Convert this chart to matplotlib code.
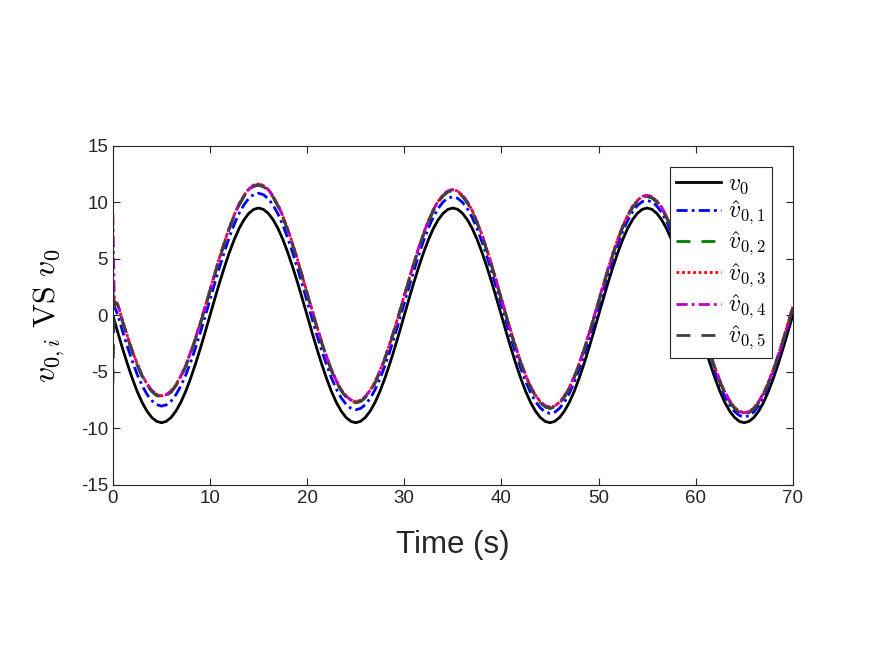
import matplotlib
matplotlib.use('Agg')
import matplotlib.pyplot as plt

plt.rcParams['font.family'] = ['Liberation Sans', 'DejaVu Sans']
plt.rcParams['mathtext.fontset'] = 'cm'
plt.rcParams['axes.unicode_minus'] = False

# time axis (s): 0.5 s samples plus one extra sample right after t=0 for the start-up jump
time = [0, 0.15] + [0.5 * k for k in range(1, 141)]

# true leader velocity v0
v0 = [0.00, -0.45,
      -1.49, -2.94, -4.31, -5.58, -6.72, -7.69, -8.46, -9.03, -9.38, -9.50,
      -9.38, -9.03, -8.46, -7.69, -6.72, -5.58, -4.31, -2.94, -1.49, 0.00,
      1.49, 2.94, 4.31, 5.58, 6.72, 7.69, 8.46, 9.03, 9.38, 9.50,
      9.38, 9.03, 8.46, 7.69, 6.72, 5.58, 4.31, 2.94, 1.49, 0.00,
      -1.49, -2.94, -4.31, -5.58, -6.72, -7.69, -8.46, -9.03, -9.38, -9.50,
      -9.38, -9.03, -8.46, -7.69, -6.72, -5.58, -4.31, -2.94, -1.49, 0.00,
      1.49, 2.94, 4.31, 5.58, 6.72, 7.69, 8.46, 9.03, 9.38, 9.50,
      9.38, 9.03, 8.46, 7.69, 6.72, 5.58, 4.31, 2.94, 1.49, 0.00,
      -1.49, -2.94, -4.31, -5.58, -6.72, -7.69, -8.46, -9.03, -9.38, -9.50,
      -9.38, -9.03, -8.46, -7.69, -6.72, -5.58, -4.31, -2.94, -1.49, 0.00,
      1.49, 2.94, 4.31, 5.58, 6.72, 7.69, 8.46, 9.03, 9.38, 9.50,
      9.38, 9.03, 8.46, 7.69, 6.72, 5.58, 4.31, 2.94, 1.49, 0.00,
      -1.49, -2.94, -4.31, -5.58, -6.72, -7.69, -8.46, -9.03, -9.38, -9.50,
      -9.38, -9.03, -8.46, -7.69, -6.72, -5.58, -4.31, -2.94, -1.49, 0.00]

# estimates held by agents 1..5
v_hat1 = [3.00, 0.80,
          0.05, -1.41, -2.78, -4.06, -5.21, -6.19, -6.97, -7.54, -7.90, -8.03,
          -7.92, -7.58, -7.01, -6.25, -5.29, -4.16, -2.90, -1.53, -0.09, 1.39,
          2.87, 4.31, 5.68, 6.94, 8.07, 9.03, 9.79, 10.36, 10.70, 10.81,
          10.68, 10.32, 9.75, 8.97, 7.99, 6.84, 5.56, 4.19, 2.73, 1.23,
          -0.27, -1.73, -3.10, -4.38, -5.53, -6.51, -7.29, -7.86, -8.22, -8.35,
          -8.24, -7.90, -7.33, -6.57, -5.61, -4.48, -3.22, -1.85, -0.41, 1.07,
          2.55, 3.99, 5.36, 6.62, 7.75, 8.71, 9.47, 10.04, 10.38, 10.49,
          10.36, 10.00, 9.43, 8.65, 7.67, 6.52, 5.24, 3.87, 2.41, 0.91,
          -0.59, -2.05, -3.42, -4.70, -5.85, -6.83, -7.61, -8.18, -8.54, -8.67,
          -8.56, -8.22, -7.65, -6.89, -5.93, -4.80, -3.54, -2.17, -0.73, 0.75,
          2.23, 3.67, 5.04, 6.30, 7.43, 8.39, 9.15, 9.72, 10.06, 10.17,
          10.04, 9.68, 9.11, 8.33, 7.35, 6.20, 4.92, 3.55, 2.09, 0.59,
          -0.91, -2.37, -3.74, -5.02, -6.17, -7.15, -7.93, -8.50, -8.86, -8.99,
          -8.88, -8.54, -7.97, -7.21, -6.25, -5.12, -3.86, -2.49, -1.05, 0.43]

v_hat2 = [2.00, 1.20,
          0.90, -0.57, -1.95, -3.23, -4.38, -5.37, -6.15, -6.73, -7.09, -7.23,
          -7.12, -6.78, -6.22, -5.47, -4.51, -3.38, -2.12, -0.77, 0.67, 2.15,
          3.63, 5.07, 6.42, 7.68, 8.81, 9.77, 10.52, 11.08, 11.42, 11.53,
          11.39, 11.03, 10.45, 9.67, 8.68, 7.53, 6.25, 4.87, 3.40, 1.90,
          0.40, -1.07, -2.45, -3.73, -4.88, -5.87, -6.65, -7.23, -7.59, -7.73,
          -7.62, -7.28, -6.72, -5.97, -5.01, -3.88, -2.62, -1.27, 0.17, 1.65,
          3.13, 4.57, 5.92, 7.18, 8.31, 9.27, 10.02, 10.58, 10.92, 11.03,
          10.89, 10.53, 9.95, 9.17, 8.18, 7.03, 5.75, 4.37, 2.90, 1.40,
          -0.10, -1.57, -2.95, -4.23, -5.38, -6.37, -7.15, -7.73, -8.09, -8.23,
          -8.12, -7.78, -7.22, -6.47, -5.51, -4.38, -3.12, -1.77, -0.33, 1.15,
          2.63, 4.07, 5.42, 6.68, 7.81, 8.77, 9.52, 10.08, 10.42, 10.53,
          10.39, 10.03, 9.45, 8.67, 7.68, 6.53, 5.25, 3.87, 2.40, 0.90,
          -0.60, -2.07, -3.45, -4.73, -5.88, -6.87, -7.65, -8.23, -8.59, -8.73,
          -8.62, -8.28, -7.72, -6.97, -6.01, -4.88, -3.62, -2.27, -0.83, 0.65]

v_hat3 = [1.50, 1.30,
          1.00, -0.47, -1.85, -3.13, -4.28, -5.27, -6.05, -6.63, -6.99, -7.13,
          -7.02, -6.68, -6.12, -5.37, -4.41, -3.28, -2.02, -0.67, 0.77, 2.25,
          3.73, 5.17, 6.52, 7.78, 8.91, 9.87, 10.62, 11.18, 11.52, 11.63,
          11.49, 11.13, 10.55, 9.77, 8.78, 7.63, 6.35, 4.97, 3.50, 2.00,
          0.50, -0.97, -2.35, -3.63, -4.78, -5.77, -6.55, -7.13, -7.49, -7.63,
          -7.52, -7.18, -6.62, -5.87, -4.91, -3.78, -2.52, -1.17, 0.27, 1.75,
          3.23, 4.67, 6.02, 7.28, 8.41, 9.37, 10.12, 10.68, 11.02, 11.13,
          10.99, 10.63, 10.05, 9.27, 8.28, 7.13, 5.85, 4.47, 3.00, 1.50,
          0.00, -1.47, -2.85, -4.13, -5.28, -6.27, -7.05, -7.63, -7.99, -8.13,
          -8.02, -7.68, -7.12, -6.37, -5.41, -4.28, -3.02, -1.67, -0.23, 1.25,
          2.73, 4.17, 5.52, 6.78, 7.91, 8.87, 9.62, 10.18, 10.52, 10.63,
          10.49, 10.13, 9.55, 8.77, 7.78, 6.63, 5.35, 3.97, 2.50, 1.00,
          -0.50, -1.97, -3.35, -4.63, -5.78, -6.77, -7.55, -8.13, -8.49, -8.63,
          -8.52, -8.18, -7.62, -6.87, -5.91, -4.78, -3.52, -2.17, -0.73, 0.75]

v_hat4 = [9.00, 1.30,
          1.00, -0.47, -1.85, -3.13, -4.28, -5.27, -6.05, -6.63, -6.99, -7.13,
          -7.02, -6.68, -6.12, -5.37, -4.41, -3.28, -2.02, -0.67, 0.77, 2.25,
          3.73, 5.17, 6.52, 7.78, 8.91, 9.87, 10.62, 11.18, 11.52, 11.63,
          11.49, 11.13, 10.55, 9.77, 8.78, 7.63, 6.35, 4.97, 3.50, 2.00,
          0.50, -0.97, -2.35, -3.63, -4.78, -5.77, -6.55, -7.13, -7.49, -7.63,
          -7.52, -7.18, -6.62, -5.87, -4.91, -3.78, -2.52, -1.17, 0.27, 1.75,
          3.23, 4.67, 6.02, 7.28, 8.41, 9.37, 10.12, 10.68, 11.02, 11.13,
          10.99, 10.63, 10.05, 9.27, 8.28, 7.13, 5.85, 4.47, 3.00, 1.50,
          0.00, -1.47, -2.85, -4.13, -5.28, -6.27, -7.05, -7.63, -7.99, -8.13,
          -8.02, -7.68, -7.12, -6.37, -5.41, -4.28, -3.02, -1.67, -0.23, 1.25,
          2.73, 4.17, 5.52, 6.78, 7.91, 8.87, 9.62, 10.18, 10.52, 10.63,
          10.49, 10.13, 9.55, 8.77, 7.78, 6.63, 5.35, 3.97, 2.50, 1.00,
          -0.50, -1.97, -3.35, -4.63, -5.78, -6.77, -7.55, -8.13, -8.49, -8.63,
          -8.52, -8.18, -7.62, -6.87, -5.91, -4.78, -3.52, -2.17, -0.73, 0.75]

v_hat5 = [-6.00, 1.20,
          0.90, -0.57, -1.95, -3.23, -4.38, -5.37, -6.15, -6.73, -7.09, -7.23,
          -7.12, -6.78, -6.22, -5.47, -4.51, -3.38, -2.12, -0.77, 0.67, 2.15,
          3.63, 5.07, 6.42, 7.68, 8.81, 9.77, 10.52, 11.08, 11.42, 11.53,
          11.39, 11.03, 10.45, 9.67, 8.68, 7.53, 6.25, 4.87, 3.40, 1.90,
          0.40, -1.07, -2.45, -3.73, -4.88, -5.87, -6.65, -7.23, -7.59, -7.73,
          -7.62, -7.28, -6.72, -5.97, -5.01, -3.88, -2.62, -1.27, 0.17, 1.65,
          3.13, 4.57, 5.92, 7.18, 8.31, 9.27, 10.02, 10.58, 10.92, 11.03,
          10.89, 10.53, 9.95, 9.17, 8.18, 7.03, 5.75, 4.37, 2.90, 1.40,
          -0.10, -1.57, -2.95, -4.23, -5.38, -6.37, -7.15, -7.73, -8.09, -8.23,
          -8.12, -7.78, -7.22, -6.47, -5.51, -4.38, -3.12, -1.77, -0.33, 1.15,
          2.63, 4.07, 5.42, 6.68, 7.81, 8.77, 9.52, 10.08, 10.42, 10.53,
          10.39, 10.03, 9.45, 8.67, 7.68, 6.53, 5.25, 3.87, 2.40, 0.90,
          -0.60, -2.07, -3.45, -4.73, -5.88, -6.87, -7.65, -8.23, -8.59, -8.73,
          -8.62, -8.28, -7.72, -6.97, -6.01, -4.88, -3.62, -2.27, -0.83, 0.65]

labels = [r'$v_0$', r'$\hat{v}_{0,1}$', r'$\hat{v}_{0,2}$',
          r'$\hat{v}_{0,3}$', r'$\hat{v}_{0,4}$', r'$\hat{v}_{0,5}$']

dashdot = (0, (4, 1.5, 1, 1.5))
dashed = (0, (5, 4))

fig = plt.figure(figsize=(8.75, 6.57), dpi=100)
ax = fig.add_axes([0.129, 0.262, 0.777, 0.516])

ax.plot(time, v0, color='k', lw=2, label=labels[0])
ax.plot(time, v_hat1, color='b', lw=2, ls=dashdot, label=labels[1])
ax.plot(time, v_hat2, color='g', lw=2, ls=dashed, label=labels[2])
ax.plot(time, v_hat3, color='r', lw=2, ls=(0, (1, 1)), label=labels[3])
ax.plot(time, v_hat4, color='m', lw=2, ls=dashdot, label=labels[4])
ax.plot(time, v_hat5, color=(0.25, 0.25, 0.25), lw=2, ls=dashed, label=labels[5])

ax.set_xlim(0, 70)
ax.set_ylim(-15, 15)
ax.set_xticks(range(0, 71, 10))
ax.set_yticks(range(-15, 16, 5))
ax.tick_params(direction='in', top=True, right=True, labelsize=13.5,
               colors=(0.15, 0.15, 0.15), length=5, width=0.8)
for s in ax.spines.values():
    s.set_color((0.15, 0.15, 0.15))
    s.set_linewidth(0.8)

ax.set_xlabel('Time (s)', fontsize=22.5, color=(0.15, 0.15, 0.15), labelpad=17)
ax.set_ylabel(r'$v_{0,i}\ \mathrm{VS}\ v_0$', fontsize=23, labelpad=10)

leg = ax.legend(loc='upper right', bbox_to_anchor=(0.969, 0.938), fontsize=17,
                fancybox=False, framealpha=1, edgecolor=(0.15, 0.15, 0.15),
                handlelength=1.9, borderpad=0.25, labelspacing=0.12,
                handletextpad=0.3, borderaxespad=0)
leg.get_frame().set_linewidth(0.8)

fig.savefig('out.png', dpi=100)
